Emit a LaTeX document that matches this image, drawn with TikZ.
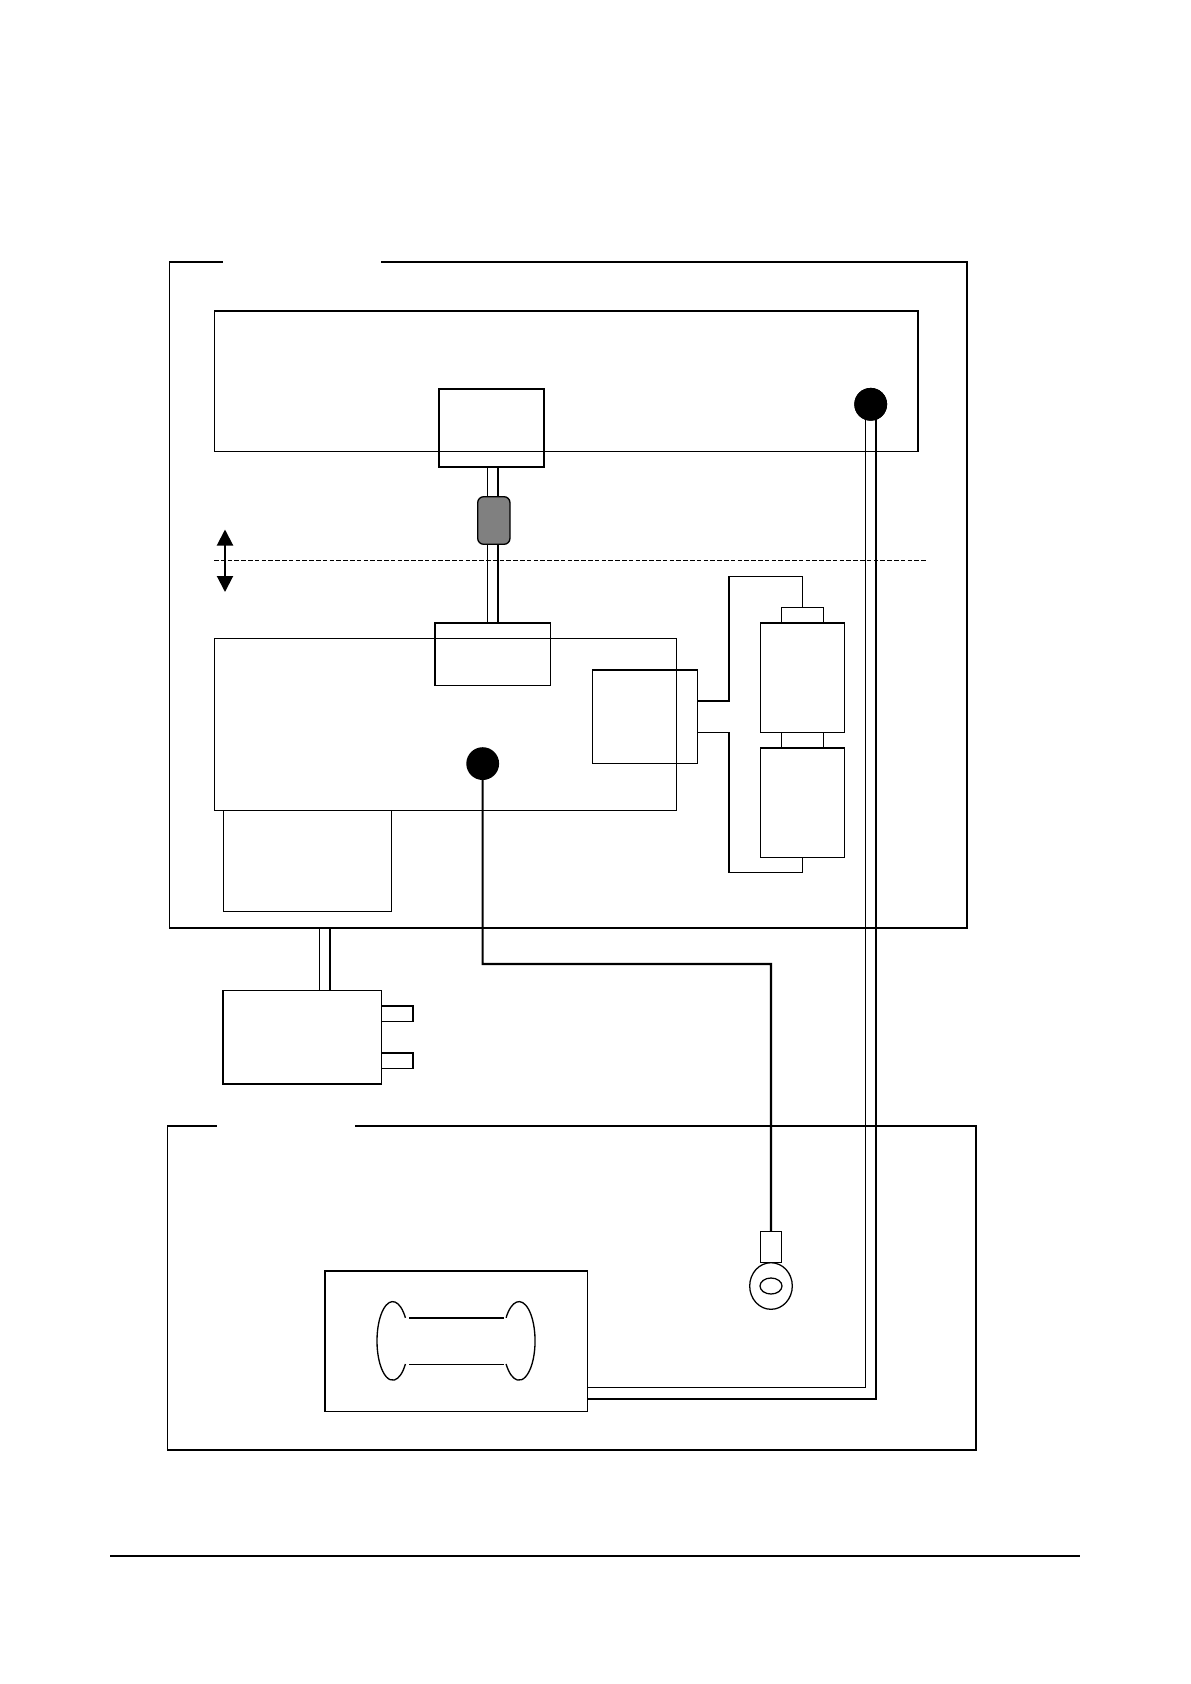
\documentclass[tikz,border=0pt]{standalone}
\usetikzlibrary{fit,arrows.meta,calc}
\definecolor{gray50}{HTML}{808080}
\tikzset{
  x=0.75pt,y=-0.75pt,
  thinl/.style={line width=0.9pt,line cap=rect,line join=miter},
  thickl/.style={line width=1.55pt,line cap=butt,line join=miter},
  boxo/.style={draw,thinl,inner sep=0pt,outer sep=0pt},
  dotn/.style={circle,fill=black,draw=none,minimum size=24.6pt,inner sep=0pt,outer sep=0pt},
  plug/.style={draw,line width=1pt,fill=gray50,rounded corners=4.5pt,inner sep=0pt,outer sep=0pt},
}
\newcommand{\bx}[6][boxo]{%
  \coordinate (#2a) at (#3,#4);\coordinate (#2b) at (#5,#6);
  \node[#1,fit=(#2a)(#2b)] (#2) {};}
\begin{document}
\begin{tikzpicture}
\useasboundingbox[fill=white] (0,0) rectangle (1190,1684);
% guide coordinates for the twin wires
\coordinate (wa) at (487.7,0);
\coordinate (wb) at (498,0);
\coordinate (wc) at (319.3,0);
\coordinate (wd) at (329.7,0);
\coordinate (we) at (865.7,0);
\coordinate (wf) at (876,0);
\coordinate (wg) at (729,0);
\coordinate (wh) at (1,1387.3);
\coordinate (wi) at (1,1399);
% outer upper enclosure
\coordinate (oa) at (169.5,262);\coordinate (ob) at (967,928);
\coordinate (oc) at (222.7,262);\coordinate (od) at (381,262);
\draw[thickl] (oa) -- (oc);
\draw[thinl] (oa) -- (oa |- ob);
\draw[thickl] (oa |- ob) -- (ob);
\draw[thinl] (ob) -- (ob |- oa);
\draw[thickl] (ob |- oa) -- (od);
% upper box
\bx{up}{214.3}{311}{918.3}{451.3}
\draw[thickl] (upa) -- (upb |- upa) -- (upb);
% small connector box
\bx{sm}{438.7}{388.7}{544.3}{467}
\draw[thickl] (sma) rectangle (smb);
% main board
\bx{mb}{214.3}{638.3}{676.7}{810.3}
% lower connector box
\bx{cn}{434.7}{622.7}{550.3}{685.3}
\draw[thickl] (cna |- cnb) -- (cna) -- (cnb |- cna);
% twin wire top
\draw[thinl,line cap=butt] (wa |- sm.south) -- (wa |- cn.north);
\draw[thickl] (wb |- sm.south) -- (wb |- cn.north);
% plug
\coordinate (pa) at (477.7,496.7);\coordinate (pb) at (510,544.3);
\node[plug,fit=(pa)(pb)] (pg) {};
% dashed line
\coordinate (da) at (214,560.3);\coordinate (db) at (926,560.3);
\draw[line width=0.75pt,dash pattern=on 3.4pt off 1.7pt] (da) -- (db);
% double arrow
\coordinate (aa) at (225,529.5);\coordinate (ab) at (225,592);
\draw[{Triangle[length=12pt,width=12pt]}-{Triangle[length=12pt,width=12pt]},line width=1.5pt] (aa) -- (ab);
% sub box
\bx{sb}{592.3}{669.7}{697.3}{763.3}
\draw[thickl] (sba) -- (sbb |- sba);
% batteries
\bx{bc}{781.3}{607.3}{823.7}{622.7}
\bx{ba}{760.3}{622.7}{844.7}{732.3}
\draw[thickl] (baa) -- (bab |- baa);
\bx{bj}{781.3}{732.3}{823.7}{748}
\bx{bb}{760.3}{748}{844.7}{857.3}
\draw[thickl] (bba) -- (bbb |- bba);
% wires to the batteries
\coordinate (sw) at (697.3,701);
\coordinate (sx) at (697.3,732.3);
\coordinate (tp) at (729,576.3);
\coordinate (bt) at (729,872.3);
\draw[thickl] (sw) -- (wg |- sw) -- (tp);
\draw[thinl] (tp) -- (bc.north |- tp) -- (bc.north);
\draw[thinl] (sx) -- (wg |- sx);
\draw[thickl] (wg |- sx) -- (bt);
\draw[thinl] (bt) -- (bb.south |- bt) -- (bb.south);
% box below main
\bx{dn}{223.3}{810.3}{391.7}{911.3}
% charger
\bx{ch}{223.3}{990.3}{381.7}{1084}
\draw[thickl] (cha) -- (cha |- chb) -- (chb);
\bx{pu}{381.7}{1006}{413}{1021.3}
\draw[thickl] (pua) -- (pub |- pua) -- (pub);
\bx{pl}{381.7}{1053}{413}{1068.3}
\draw[thickl] (pla) -- (plb |- pla) -- (plb);
\draw[thinl,line cap=butt] (wc |- ob) -- (wc |- ch.north);
\draw[thickl] (wd |- ob) -- (wd |- ch.north);
% lower enclosure
\coordinate (qa) at (167.5,1125.7);\coordinate (qb) at (976,1450);
\coordinate (qc) at (216.7,1125.7);\coordinate (qd) at (355,1125.7);
\draw[thickl] (qc) -- (qa);
\draw[line width=1.1pt,line cap=rect] (qa) -- (qa |- qb);
\draw[thickl] (qa |- qb) -- (qb) -- (qb |- qa) -- (qd);
% spool box
\bx{sp}{325}{1271}{587.3}{1411.3}
\draw[thickl] (spa |- spb) -- (spa) -- (spb |- spa);
% spool
\coordinate (sl) at (392.7,1341);
\coordinate (sr) at (519,1341);
\draw[line width=1pt] ($(sl)+(12.7,-23.2)$) arc[start angle=36,end angle=324,x radius=15.7,y radius=-39.3];
\draw[line width=1pt] ($(sr)+(-12.9,-23.2)$) arc[start angle=144,end angle=-144,x radius=16,y radius=-39.3];
\coordinate (la) at (409,1318.3);\coordinate (lb) at (503.7,1318.3);
\coordinate (lc) at (409,1364.3);\coordinate (ld) at (503.7,1364.3);
\draw[line width=1.5pt] (la) -- (lb);
\draw[line width=0.9pt] (lc) -- (ld);
% right dot and long twin wire
\node[dotn] (d1) at (870.7,404.3) {};
\draw[thinl] (we |- d1) -- (we |- wh) -- (sp.east |- wh);
\draw[thickl] (wf |- d1) -- (wf |- wi) -- (sp.east |- wi);
\node[dotn] at (d1) {};
% lug and its wire
\node[dotn] (d2) at (482.7,763.6) {};
\bx{lg}{760.3}{1231.3}{781.7}{1262.3}
\coordinate (lk) at (771,964);
\draw[thickl] (d2) -- (d2 |- lk) -- (lk) -- (lg.north);
\coordinate (ra) at (771,1286);
\draw[line width=0.95pt] (ra) ellipse [x radius=21.3,y radius=23.3];
\draw[line width=0.95pt] (ra) ellipse [x radius=11,y radius=8];
% footer rule
\coordinate (fa) at (110,1556);\coordinate (fb) at (1080,1556);
\draw[line width=1.4pt] (fa) -- (fb);
\end{tikzpicture}
\end{document}
